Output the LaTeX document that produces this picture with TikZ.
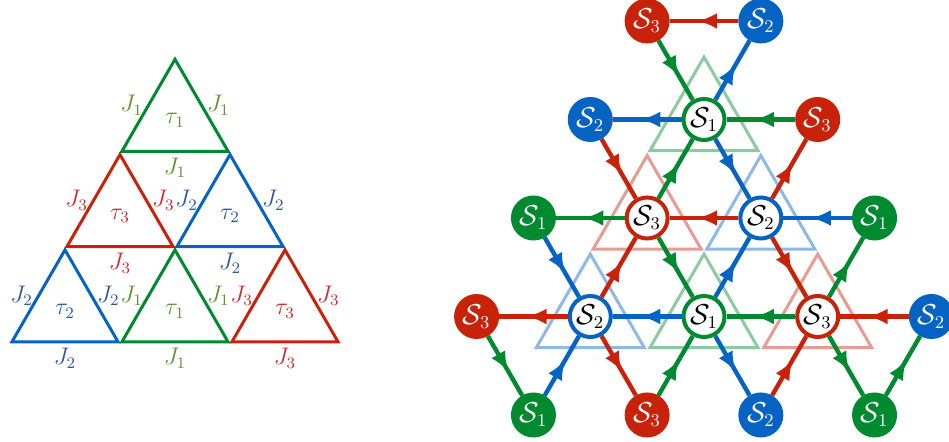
\documentclass[tikz,border=0pt]{standalone}
\usetikzlibrary{arrows.meta,decorations.markings}
\definecolor{col1}{RGB}{0,138,48}
\definecolor{col2}{RGB}{5,100,195}
\definecolor{col3}{RGB}{200,35,10}
\definecolor{lab1}{RGB}{95,145,45}
\definecolor{lab2}{RGB}{45,85,165}
\definecolor{lab3}{RGB}{210,40,40}
\tikzset{
  tri/.style={line width=1.5pt},
  jlab/.style={#1,inner sep=1pt,font=\fontsize{12}{14}\selectfont},
  pale/.style={#1,line width=1.5pt,opacity=0.45},
  ring/.style={circle,draw=#1,fill=white,line width=2pt,minimum size=20.5pt,inner sep=0pt},
  full/.style={circle,draw=#1,fill=#1,text=white,line width=2pt,minimum size=20.5pt,inner sep=0pt},
  link/.style={#1,line width=2.2pt,postaction={decorate},
    decoration={markings,mark=at position 0.6 with {\arrow{Latex[length=10pt,width=8pt]}}}},
}
\begin{document}
\begin{tikzpicture}[x=0.5pt,y=-0.5pt,font=\fontsize{13.5}{16}\selectfont]
    \useasboundingbox (0,0) rectangle (949,442);
    % left: the six coupling triangles
    \foreach \x/\y/\i in {120/152.4/1, 65/247.7/3, 175/247.7/2, 10/343/2, 120/343/1, 230/343/3}
    {
        \begin{scope}[shift={(\x+55,\y-31.8)},scale=0.965]
            \draw[tri,col\i] (0,-63.5) -- node[right=1pt,jlab=lab\i] {$J_\i$} (55,31.8)
                -- node[below=1.5pt,jlab=lab\i] {$J_\i$} (-55,31.8) -- node[left=1pt,jlab=lab\i] {$J_\i$} cycle;
            \node[jlab=lab\i] (tau) at (0,0) {$\tau_\i$};
        \end{scope}
    }
    % right: pale triangles round the inner sites
    \foreach \x/\y/\c in {704/119.5/col1, 647.15/218/col3, 760.85/218/col2,
                          590.3/316.5/col2, 704/316.5/col1, 817.7/316.5/col3}
        \draw[pale=\c,shift={(\x,\y)},scale=0.95] (0,-65.7) -- (56.85,32.8) -- (-56.85,32.8) -- cycle;
    % inner sites
    \node[ring=col1] (i1) at (704,119.5) {$\mathcal{S}_1$};
    \node[ring=col3] (i2) at (647.15,218) {$\mathcal{S}_3$};
    \node[ring=col2] (i3) at (760.85,218) {$\mathcal{S}_2$};
    \node[ring=col2] (i4) at (590.3,316.5) {$\mathcal{S}_2$};
    \node[ring=col1] (i5) at (704,316.5) {$\mathcal{S}_1$};
    \node[ring=col3] (i6) at (817.7,316.5) {$\mathcal{S}_3$};
    % outer sites
    \node[full=col3] (o1) at (647.15,21) {$\mathcal{S}_3$};
    \node[full=col2] (o2) at (760.85,21) {$\mathcal{S}_2$};
    \node[full=col2] (o3) at (590.3,119.5) {$\mathcal{S}_2$};
    \node[full=col3] (o4) at (817.7,119.5) {$\mathcal{S}_3$};
    \node[full=col1] (o5) at (533.45,218) {$\mathcal{S}_1$};
    \node[full=col1] (o6) at (874.55,218) {$\mathcal{S}_1$};
    \node[full=col3] (o7) at (476.6,316.5) {$\mathcal{S}_3$};
    \node[full=col2] (o8) at (931.4,316.5) {$\mathcal{S}_2$};
    \node[full=col1] (o9) at (533.45,415) {$\mathcal{S}_1$};
    \node[full=col3] (o10) at (647.15,415) {$\mathcal{S}_3$};
    \node[full=col2] (o11) at (760.85,415) {$\mathcal{S}_2$};
    \node[full=col1] (o12) at (874.55,415) {$\mathcal{S}_1$};
    % directed bonds
    \foreach \a/\b/\c in {o2/o1/col3, o1/i1/col1, i1/o2/col2, i1/o3/col2, o4/i1/col1,
                          o3/i2/col3, i2/i1/col1, i1/i3/col2, i3/o4/col3, i2/o5/col1,
                          i3/i2/col3, o6/i3/col2, o5/i4/col2, i4/i2/col3, i2/i5/col1,
                          i5/i3/col2, i3/i6/col3, i6/o6/col1, i4/o7/col3, i5/i4/col2,
                          i6/i5/col1, o8/i6/col3, o7/o9/col1, o9/i4/col2, i4/o10/col3,
                          o10/i5/col1, i5/o11/col2, o11/i6/col3, i6/o12/col1, o12/o8/col1}
        \draw[link=\c] (\a) -- (\b);
\end{tikzpicture}
\end{document}
